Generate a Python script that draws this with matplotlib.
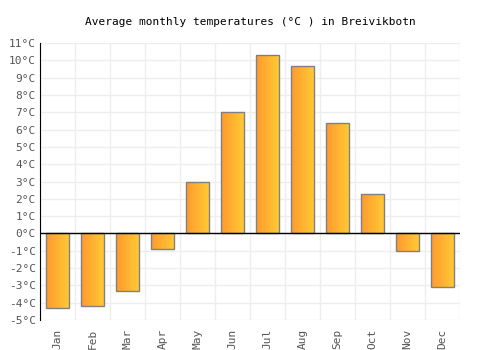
import numpy as np
from matplotlib import pyplot as plt
from matplotlib.colors import LinearSegmentedColormap

months = ['Jan', 'Feb', 'Mar', 'Apr', 'May', 'Jun', 'Jul', 'Aug', 'Sep', 'Oct', 'Nov', 'Dec']
temps = [-4.3, -4.2, -3.3, -0.9, 3.0, 7.0, 10.3, 9.7, 6.4, 2.3, -1.0, -3.1]
yticks = list(range(-5, 12))

plt.rcParams['font.family'] = ['DejaVu Sans Mono']

fig = plt.figure(figsize=(5, 3.5), dpi=100)
ax = fig.add_axes([0.08, 0.0857, 0.84, 0.791])

x = np.arange(len(months))
bars = ax.bar(x, temps, width=0.65, color='none', edgecolor='#808080', linewidth=1, zorder=3)

# horizontal orange -> yellow gradient inside each bar
cmap = LinearSegmentedColormap.from_list('og', ['#ff9a2e', '#ffc934'])
grad = np.linspace(0, 1, 64).reshape(1, -1)
for b in bars:
    x0, y0 = b.get_x(), b.get_y()
    w, h = b.get_width(), b.get_height()
    im = ax.imshow(grad, cmap=cmap, aspect='auto', extent=[x0, x0 + w, y0, y0 + h],
                   zorder=2, interpolation='bicubic')
    im.set_clip_path(b)

ax.set_xlim(-0.5, len(months) - 0.5)
ax.set_ylim(-5, 11)
ax.set_yticks(yticks)
ax.set_yticklabels([f'{t}°C' for t in yticks])
ax.set_xticks(x)
ax.set_xticklabels(months, rotation=90)
ax.set_xticks(np.arange(-0.5, len(months)), minor=True)
ax.grid(True, which='minor', axis='x', color='#eeeeee', linewidth=1, zorder=0)
ax.grid(True, which='major', axis='y', color='#eeeeee', linewidth=1, zorder=0)
ax.tick_params(axis='both', which='both', length=0, labelsize=8, colors='#555555')
ax.tick_params(axis='y', pad=3)
ax.tick_params(axis='x', pad=6)
for s in ['top', 'right', 'bottom']:
    ax.spines[s].set_visible(False)
ax.spines['left'].set_color('black')
ax.axhline(0, color='black', linewidth=1, zorder=4)

ax.set_title('Average monthly temperatures (°C ) in Breivikbotn', fontsize=8, pad=13)

fig.savefig('out.png', dpi=100)
